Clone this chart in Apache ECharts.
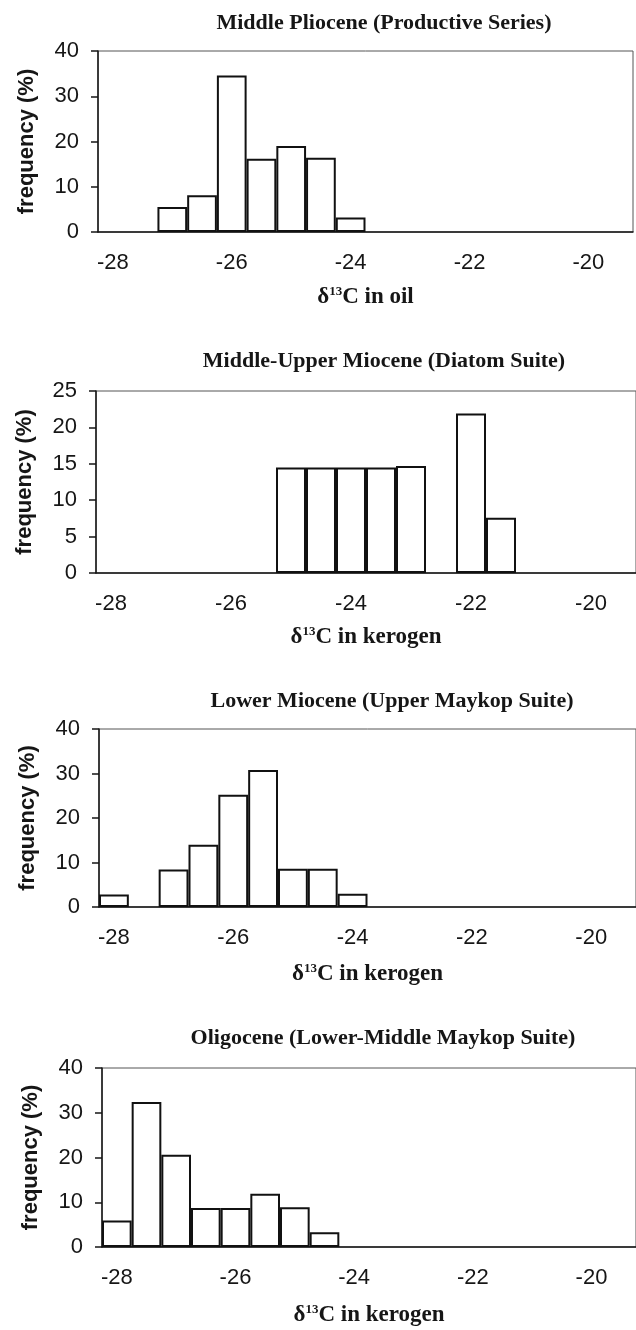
<!DOCTYPE html>
<html>
<head>
<meta charset="utf-8">
<script src="https://cdn.jsdelivr.net/npm/echarts@6/dist/echarts.min.js"></script>
<style>
  html, body { margin: 0; padding: 0; background: #fff; }
  #chart { width: 636px; height: 1330px; }
</style>
</head>
<body>
<div id="chart"></div>
<script>
// bins of 0.5 permil, labelled every 4th one
const bins = ["-28", "-27.5", "-27", "-26.5", "-26", "-25.5", "-25", "-24.5", "-24",
  "-23.5", "-23", "-22.5", "-22", "-21.5", "-21", "-20.5", "-20", "-19.5"];

const titles = [
  "Middle Pliocene (Productive Series)",
  "Middle-Upper Miocene (Diatom Suite)",
  "Lower Miocene (Upper Maykop Suite)",
  "Oligocene (Lower-Middle Maykop Suite)"
];
const xNames = ["in oil", "in kerogen", "in kerogen", "in kerogen"];
const yMax = [40, 25, 40, 40];
const yStep = [10, 5, 10, 10];

// frequency (%) per bin
const pliocene = [null, null, 5.5, 8.1, 34.6, 16.2, 19.0, 16.4, 3.2, null, null, null, null, null, null, null, null, null];
const diatom = [null, null, null, null, null, null, 14.5, 14.5, 14.5, 14.5, 14.7, null, 21.9, 7.6, null, null, null, null];
const upperMaykop = [2.8, null, 8.4, 14.0, 25.2, 30.8, 8.6, 8.6, 3.0, null, null, null, null, null, null, null, null, null];
const oligocene = [5.9, 32.4, 20.6, 8.7, 8.7, 11.9, 8.9, 3.3, null, null, null, null, null, null, null, null, null, null];
const panels = [pliocene, diatom, upperMaykop, oligocene];

// layout of each panel (px)
const grids = [
  { left: 98, top: 51, width: 535, height: 181 },
  { left: 96, top: 391, width: 543, height: 182 },
  { left: 99, top: 729, width: 545, height: 178 },
  { left: 102, top: 1068, width: 542, height: 179 }
];
const titleX = [379, 379, 387, 378];
const titleY = [7, 345, 685, 1022];
const nameGaps = [53, 52, 55, 56];

const ink = "#161616";
const sans = "'Liberation Sans', Arial, sans-serif";
const serif = "'Liberation Serif', 'Times New Roman', serif";

const option = {
  backgroundColor: "#fff",
  animation: false,
  title: titles.map((t, i) => ({
    text: t,
    left: titleX[i],
    top: titleY[i],
    textAlign: "center",
    textStyle: { fontFamily: serif, fontWeight: "bold", fontSize: 22, color: ink }
  })),
  grid: grids.map(g => Object.assign({ show: true, borderColor: "#555", borderWidth: 1, containLabel: false }, g)),
  xAxis: panels.map((p, i) => ({
    type: "category",
    gridIndex: i,
    data: bins,
    name: "{d|δ}{s|13}{c|C " + xNames[i] + "}",
    nameLocation: "middle",
    nameGap: nameGaps[i],
    nameTextStyle: {
      rich: {
        d: { fontFamily: serif, fontWeight: "bold", fontSize: 23, color: ink, lineHeight: 24, verticalAlign: "bottom" },
        s: { fontFamily: serif, fontWeight: "bold", fontSize: 13, color: ink, lineHeight: 24, verticalAlign: "top" },
        c: { fontFamily: serif, fontWeight: "bold", fontSize: 23, color: ink, lineHeight: 24, verticalAlign: "bottom" }
      }
    },
    axisLine: { lineStyle: { color: ink, width: 1.5 } },
    axisTick: { interval: 0, length: 6, lineStyle: { color: ink, width: 1.5 } },
    axisLabel: { interval: 3, margin: 20, fontFamily: sans, fontSize: 22, color: ink },
    splitLine: { show: false }
  })),
  yAxis: panels.map((p, i) => ({
    type: "value",
    gridIndex: i,
    min: 0,
    max: yMax[i],
    interval: yStep[i],
    name: "frequency (%)",
    nameLocation: "middle",
    nameGap: 60,
    nameTextStyle: { fontFamily: sans, fontWeight: "bold", fontSize: 22, color: ink },
    axisLine: { show: true, lineStyle: { color: ink, width: 1.5 } },
    axisTick: { show: true, length: 7, lineStyle: { color: ink, width: 1.5 } },
    axisLabel: { margin: 19, fontFamily: sans, fontSize: 22, color: ink },
    splitLine: { show: false }
  })),
  series: panels.map((p, i) => ({
    type: "bar",
    xAxisIndex: i,
    yAxisIndex: i,
    data: p,
    barCategoryGap: "0%",
    itemStyle: { color: "#fff", borderColor: "#111", borderWidth: 2 }
  }))
};

const chart = echarts.init(document.getElementById("chart"));
chart.setOption(option);
</script>
</body>
</html>
